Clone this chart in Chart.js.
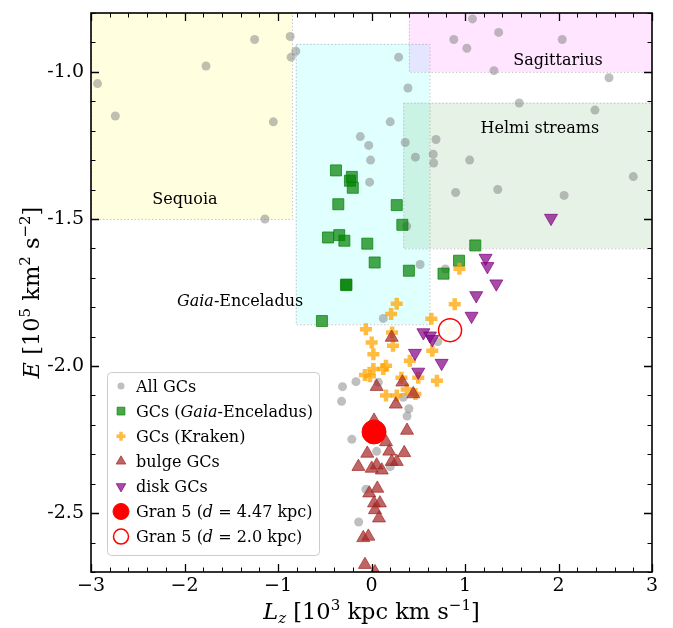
<!DOCTYPE html>
<html><head><meta charset="utf-8">
<script src="https://cdn.jsdelivr.net/npm/chart.js@4/dist/chart.umd.min.js"></script>
<style>html,body{margin:0;padding:0;background:#fff;}canvas{display:block;}</style>
</head><body>
<canvas id="c" width="673" height="628"></canvas>
<script>
// ---------- data ----------
const xTicks = [-3, -2, -1, 0, 1, 2, 3];
const xTickLabels = ['\u22123', '\u22122', '\u22121', '0', '1', '2', '3'];
const yTicks = [-2.5, -2.0, -1.5, -1.0];
const yTickLabels = ['-2.5', '-2.0', '-1.5', '-1.0'];

const allLz = [-2.93,-2.74,-1.77,-1.25,-1.05,-0.87,-0.81,-0.86,-1.14,
  0.20,-0.12,-0.03,-0.01,-0.02,
  1.08,1.36,0.88,1.02,2.04,1.31,2.54,0.29,0.39,1.58,2.39,0.36,0.69,0.47,0.66,0.665,1.05,2.80,0.90,1.35,2.06,
  0.376,0.52,0.79,0.126,0.71,
  -0.31,-0.166,0.073,-0.32,0.34,0.40,0.38,-0.21,0.055,0.20,-0.06,-0.137];
const allE = [-1.04,-1.15,-0.98,-0.89,-1.17,-0.88,-0.93,-0.95,-1.50,
  -1.17,-1.22,-1.25,-1.30,-1.375,
  -0.82,-0.866,-0.89,-0.92,-0.89,-0.996,-1.02,-0.95,-1.055,-1.106,-1.13,-1.24,-1.23,-1.29,-1.28,-1.31,-1.30,-1.356,-1.41,-1.40,-1.42,
  -1.525,-1.655,-1.67,-1.838,-1.917,
  -2.07,-2.053,-2.055,-2.12,-2.106,-2.145,-2.17,-2.249,-2.29,-2.342,-2.419,-2.53];

const geLz = [-0.38,-0.21,-0.23,-0.20,-0.355,0.27,0.33,-0.465,-0.345,-0.29,-0.045,1.11,0.034,0.40,0.936,0.77,-0.27,-0.27,-0.53];
const geE  = [-1.335,-1.357,-1.37,-1.394,-1.45,-1.453,-1.52,-1.563,-1.555,-1.574,-1.584,-1.59,-1.648,-1.676,-1.642,-1.686,-1.723,-1.725,-1.847];

const krLz = [0.94,0.89,0.27,0.21,0.64,-0.06,0.002,0.22,0.23,0.02,0.65,0.41,0.155,0.126,0.02,-0.07,-0.016,0.50,0.70,0.32,0.155,0.27,0.47,0.376,0.84];
const krE  = [-1.669,-1.79,-1.788,-1.823,-1.839,-1.875,-1.92,-1.886,-1.931,-1.96,-1.948,-1.982,-1.999,-2.01,-2.01,-2.03,-2.035,-2.04,-2.05,-2.04,-2.10,-2.10,-2.095,-2.08,-1.875];

const bulgeLz = [0.216,0.055,0.33,0.447,0.26,0.027,0.38,0.155,-0.045,0.19,0.35,0.27,-0.14,0.002,0.11,0.055,0.216,0.062,-0.024,0.027,0.09,0.037,0.08,-0.088,-0.034,-0.07,0.037];
const bulgeE  = [-1.903,-2.07,-2.055,-2.095,-2.13,-2.185,-2.219,-2.258,-2.297,-2.29,-2.295,-2.325,-2.342,-2.348,-2.354,-2.337,-2.325,-2.416,-2.432,-2.466,-2.466,-2.489,-2.517,-2.584,-2.579,-2.675,-2.70];

const diskLz = [1.92,1.22,1.24,1.335,1.12,1.07,0.555,0.626,0.65,0.465,0.75,0.50];
const diskE  = [-1.497,-1.633,-1.661,-1.72,-1.76,-1.83,-1.886,-1.897,-1.909,-1.956,-1.99,-2.02];

const gran5FarLz = [0.027];  const gran5FarE = [-2.224];
const gran5NearLz = [0.84];  const gran5NearE = [-1.878];

const regionNames = ['Sequoia', 'Gaia-Enceladus', 'Sagittarius', 'Helmi streams'];
const regionLzMin = [-3.0, -0.81, 0.40, 0.34];
const regionLzMax = [-0.85, 0.62, 3.0, 3.0];
const regionEMin  = [-1.50, -1.858, -1.00, -1.60];
const regionEMax  = [-0.80, -0.905, -0.80, -1.105];
const regionLabelLz = [-1.995, -1.406, 1.995, 1.80];
const regionLabelE  = [-1.429, -1.774, -0.956, -1.186];

const legendLabels = ['All GCs', 'GCs (Gaia-Enceladus)', 'GCs (Kraken)', 'bulge GCs', 'disk GCs', 'Gran 5 (d = 4.47 kpc)', 'Gran 5 (d = 2.0 kpc)'];

// ---------- helpers ----------
const SERIF = "'DejaVu Serif', 'Liberation Serif', serif";
const pts = (xs, ys) => xs.map((v, i) => ({x: v, y: ys[i]}));
const regionFill = ['rgba(255,255,0,0.12)', 'rgba(0,255,255,0.12)', 'rgba(255,0,255,0.10)', 'rgba(0,128,0,0.10)'];

function drawRich(ctx, parts, x, y, align) {
  let total = 0;
  parts.forEach(p => { ctx.font = p.f; p.w = ctx.measureText(p.t).width; total += p.w; });
  let cx = align === 'left' ? x : x - total / 2;
  ctx.textAlign = 'left'; ctx.textBaseline = 'alphabetic';
  parts.forEach(p => { ctx.font = p.f; ctx.fillText(p.t, cx, y + (p.dy || 0)); cx += p.w; });
}
function splitItalic(label, word, size) {
  const i = label.indexOf(word);
  const n = size + 'px ' + SERIF, it = 'italic ' + size + 'px ' + SERIF;
  if (i < 0) return [{t: label, f: n}];
  return [{t: label.slice(0, i), f: n}, {t: word, f: it}, {t: label.slice(i + word.length), f: n}];
}

const regionsPlugin = {
  id: 'regions',
  beforeDatasetsDraw(chart) {
    const {ctx, chartArea: a, scales: {x, y}} = chart;
    ctx.save();
    ctx.beginPath(); ctx.rect(a.left, a.top, a.width, a.height); ctx.clip();
    for (let i = 0; i < regionNames.length; i++) {
      const x0 = x.getPixelForValue(regionLzMin[i]), x1 = x.getPixelForValue(regionLzMax[i]);
      const y0 = y.getPixelForValue(regionEMax[i]), y1 = y.getPixelForValue(regionEMin[i]);
      ctx.fillStyle = regionFill[i];
      ctx.fillRect(x0, y0, x1 - x0, y1 - y0);
      ctx.setLineDash([1.5, 2]);
      ctx.lineWidth = 1;
      ctx.strokeStyle = 'rgba(190,190,190,0.9)';
      ctx.strokeRect(x0 + 0.5, y0 + 0.5, x1 - x0, y1 - y0);
    }
    ctx.restore();
  },
  afterDatasetsDraw(chart) {
    const {ctx, scales: {x, y}} = chart;
    ctx.save();
    ctx.fillStyle = '#000';
    for (let i = 0; i < regionNames.length; i++) {
      drawRich(ctx, splitItalic(regionNames[i], 'Gaia', 16), x.getPixelForValue(regionLabelLz[i]), y.getPixelForValue(regionLabelE[i]) + 6);
    }
    ctx.restore();
  }
};

const framePlugin = {
  id: 'frame',
  afterDraw(chart) {
    const {ctx, chartArea: a, scales: {x, y}} = chart;
    ctx.save();
    ctx.strokeStyle = '#000';
    for (let i = -15; i <= 15; i++) {
      const major = i % 5 === 0, len = major ? 8 : 4.5;
      const px = Math.round(x.getPixelForValue(i * 0.2)) + 0.5;
      ctx.lineWidth = major ? 1.3 : 1;
      ctx.beginPath();
      ctx.moveTo(px, a.bottom); ctx.lineTo(px, a.bottom - len);
      ctx.moveTo(px, a.top); ctx.lineTo(px, a.top + len);
      ctx.stroke();
    }
    for (let i = -27; i <= -8; i++) {
      const major = i % 5 === 0, len = major ? 8 : 4.5;
      const py = Math.round(y.getPixelForValue(i / 10)) + 0.5;
      ctx.lineWidth = major ? 1.3 : 1;
      ctx.beginPath();
      ctx.moveTo(a.left, py); ctx.lineTo(a.left + len, py);
      ctx.moveTo(a.right, py); ctx.lineTo(a.right - len, py);
      ctx.stroke();
    }
    ctx.lineWidth = 1.6;
    ctx.strokeRect(a.left, a.top, a.width, a.height);

    // axis titles
    ctx.fillStyle = '#000';
    const B = '22.5px ' + SERIF, I = 'italic 22.5px ' + SERIF, S = '15px ' + SERIF, SI = 'italic 15px ' + SERIF;
    drawRich(ctx, [{t: 'L', f: I}, {t: 'z', f: SI, dy: 4}, {t: ' [10', f: B}, {t: '3', f: S, dy: -9},
      {t: ' kpc km s', f: B}, {t: '\u22121', f: S, dy: -9}, {t: ']', f: B}], (a.left + a.right) / 2, 619);
    ctx.save();
    ctx.translate(31, (a.top + a.bottom) / 2);
    ctx.rotate(-Math.PI / 2);
    drawRich(ctx, [{t: 'E', f: I}, {t: ' [10', f: B}, {t: '5', f: S, dy: -9}, {t: ' km', f: B}, {t: '2', f: S, dy: -9},
      {t: ' s', f: B}, {t: '\u22122', f: S, dy: -9}, {t: ']', f: B}], 0, 8);
    ctx.restore();

    // legend
    const bx = 107, by = 372, bw = 212, bh = 183;
    ctx.beginPath();
    ctx.roundRect(bx + 0.5, by + 0.5, bw, bh, 4);
    ctx.fillStyle = 'rgba(255,255,255,0.85)';
    ctx.fill();
    ctx.lineWidth = 1; ctx.strokeStyle = '#cccccc'; ctx.stroke();
    const ds = chart.data.datasets;
    const legendMarker = [
      {pointStyle: 'circle', radius: 3.5, borderWidth: 0},
      {pointStyle: 'rect', radius: 5.5, borderWidth: 1},
      {pointStyle: 'cross', radius: 4.5, borderWidth: 3.5},
      {pointStyle: 'triangle', radius: 5.5, borderWidth: 1},
      {pointStyle: 'triangle', radius: 5.5, borderWidth: 1, rotation: 180},
      {pointStyle: 'circle', radius: 8, borderWidth: 1},
      {pointStyle: 'circle', radius: 7.5, borderWidth: 1.5}
    ];
    for (let i = 0; i < legendLabels.length; i++) {
      const cy = 386 + i * 25.1;
      const m = legendMarker[i];
      ctx.save();
      ctx.fillStyle = ds[i].backgroundColor;
      ctx.strokeStyle = ds[i].borderColor;
      ctx.lineWidth = m.borderWidth;
      Chart.helpers.drawPoint(ctx, {pointStyle: m.pointStyle, radius: m.radius, rotation: m.rotation || 0, borderWidth: m.borderWidth}, 121, cy);
      ctx.restore();
      ctx.fillStyle = '#000';
      let parts = splitItalic(legendLabels[i], 'Gaia', 16);
      const k = legendLabels[i].indexOf('d =');
      if (k >= 0) {
        const n = '16px ' + SERIF, it = 'italic 16px ' + SERIF;
        parts = [{t: legendLabels[i].slice(0, k), f: n}, {t: 'd', f: it}, {t: legendLabels[i].slice(k + 1), f: n}];
      }
      drawRich(ctx, parts, 136, cy + 5.5, 'left');
    }
    ctx.restore();
  }
};

// ---------- chart ----------
const datasets = [
  {label: 'All GCs', data: pts(allLz, allE), pointStyle: 'circle', pointRadius: 4.5, borderWidth: 0,
    backgroundColor: 'rgba(128,128,128,0.5)', borderColor: 'rgba(128,128,128,0.5)'},
  {label: 'GCs (Gaia-Enceladus)', data: pts(geLz, geE), pointStyle: 'rect', pointRadius: 7.8, borderWidth: 1,
    backgroundColor: 'rgba(0,128,0,0.7)', borderColor: 'rgba(0,128,0,0.7)'},
  {label: 'GCs (Kraken)', data: pts(krLz, krE), pointStyle: 'cross', pointRadius: 6, borderWidth: 4.5,
    backgroundColor: 'rgba(255,165,0,0.75)', borderColor: 'rgba(255,165,0,0.75)'},
  {label: 'bulge GCs', data: pts(bulgeLz, bulgeE), pointStyle: 'triangle', pointRadius: 7.5, borderWidth: 1,
    backgroundColor: 'rgba(165,42,42,0.72)', borderColor: 'rgba(165,42,42,0.72)'},
  {label: 'disk GCs', data: pts(diskLz, diskE), pointStyle: 'triangle', rotation: 180, pointRadius: 7.5, borderWidth: 1,
    backgroundColor: 'rgba(128,0,128,0.7)', borderColor: 'rgba(128,0,128,0.7)'},
  {label: 'Gran 5 (d = 4.47 kpc)', data: pts(gran5FarLz, gran5FarE), pointStyle: 'circle', pointRadius: 12, borderWidth: 1,
    backgroundColor: '#ff0000', borderColor: '#ff0000'},
  {label: 'Gran 5 (d = 2.0 kpc)', data: pts(gran5NearLz, gran5NearE), pointStyle: 'circle', pointRadius: 11.5, borderWidth: 1.5,
    backgroundColor: 'rgba(255,255,255,0.9)', borderColor: '#ff0000'}
];
datasets.forEach((d, i) => Object.assign(d, {clip: 0, pointHoverRadius: d.pointRadius, order: datasets.length - i}));

new Chart(document.getElementById('c'), {
  type: 'scatter',
  data: {datasets},
  options: {
    responsive: false,
    animation: false,
    devicePixelRatio: 1,
    layout: {padding: {top: 13, right: 21, left: 0, bottom: 0}},
    plugins: {legend: {display: false}, tooltip: {enabled: false}},
    events: [],
    scales: {
      x: {
        type: 'linear', min: -3, max: 3,
        afterBuildTicks: s => { s.ticks = xTicks.map(v => ({value: v})); },
        afterFit: s => { s.height = 56; s.paddingLeft = 0; s.paddingRight = 0; },
        ticks: {callback: (v, i) => xTickLabels[i], font: {family: SERIF, size: 19}, color: '#000', padding: 3, maxRotation: 0, autoSkip: false},
        grid: {display: false, drawTicks: false},
        border: {display: false}
      },
      y: {
        type: 'linear', min: -2.7, max: -0.8,
        afterBuildTicks: s => { s.ticks = yTicks.map(v => ({value: v})); },
        afterFit: s => { s.width = 91; s.paddingTop = 0; s.paddingBottom = 0; },
        ticks: {callback: (v, i) => yTickLabels[i], font: {family: SERIF, size: 19}, color: '#000', padding: 7, autoSkip: false},
        grid: {display: false, drawTicks: false},
        border: {display: false}
      }
    }
  },
  plugins: [regionsPlugin, framePlugin]
});
</script>
</body></html>
